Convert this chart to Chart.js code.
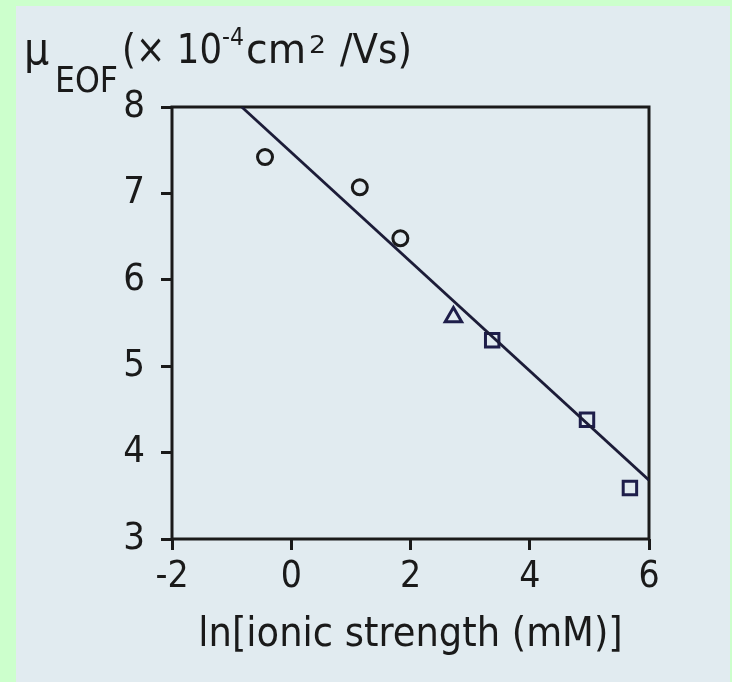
<!DOCTYPE html>
<html>
<head>
<meta charset="utf-8">
<script src="https://cdn.jsdelivr.net/npm/chart.js@4.4.0/dist/chart.umd.min.js"></script>
<style>
  html, body { margin: 0; padding: 0; }
  body { width: 732px; height: 682px; background: #ccffcc; position: relative; overflow: hidden; }
  #panel { position: absolute; left: 16px; top: 6px; width: 714px; height: 676px; background: #e1ebf0; }
  #wrap { position: absolute; left: 0; top: 0; width: 732px; height: 682px; }
</style>
</head>
<body>
<div id="panel"></div>
<div id="wrap"><canvas id="eof-chart"></canvas></div>
<script>
const circleX = [-0.44, 1.15, 1.83];
const circleY = [7.42, 7.07, 6.48];
const triangleX = [2.72];
const triangleY = [5.57];
const squareX = [3.37, 4.96, 5.68];
const squareY = [5.30, 4.38, 3.59];

// Fitted straight line (end points)
const fitX = [-0.83, 6.0];
const fitY = [8.0, 3.68];

// Axis ticks
const xTicks = [-2, 0, 2, 4, 6];
const yTicks = [3, 4, 5, 6, 7, 8];

const xTitle = 'ln[ionic strength (mM)]';

const ink = '#1a1a1a';
const markInk = '#1e1e4a';
const fontFamily = "'DejaVu Sans Condensed', 'DejaVu Sans', sans-serif";

function toPoints(xs, ys) {
  return xs.map((x, i) => ({ x: x, y: ys[i] }));
}

// Draws the frame around the plot and the y unit label
const frameAndUnits = {
  id: 'frameAndUnits',
  beforeDatasetsDraw(chart) {
    const { ctx, chartArea } = chart;
    ctx.save();
    ctx.strokeStyle = ink;
    ctx.lineWidth = 3;
    ctx.strokeRect(chartArea.left, chartArea.top,
      chartArea.right - chartArea.left, chartArea.bottom - chartArea.top);
    ctx.restore();
  },
  afterDraw(chart) {
    const ctx = chart.ctx;
    ctx.save();
    ctx.fillStyle = ink;
    ctx.textAlign = 'left';
    ctx.textBaseline = 'alphabetic';
    // squeeze or stretch each piece so it covers the same span as the scan
    const put = (text, size, x, y, w) => {
      ctx.font = size + 'px ' + fontFamily;
      const sx = w ? w / ctx.measureText(text).width : 1;
      ctx.save();
      ctx.translate(x, y);
      ctx.scale(sx, 1);
      ctx.fillText(text, 0, 0);
      ctx.restore();
    };
    put('\u03bc', 44, 24, 64);
    put('EOF', 36, 55, 92, 63);
    put('(\u00d7 10', 41, 122, 63, 100);
    put('-4', 25, 222, 45, 22);
    put('cm', 41, 246, 63, 60);
    put('2', 25, 309, 53, 17);
    put('/Vs)', 41, 340, 63, 72);
    ctx.restore();
  },
};

const eofCanvas = document.getElementById('eof-chart');

let eofChart = new Chart(eofCanvas, {
  type: 'scatter',
  data: {
    datasets: [
      {
        type: 'line',
        data: toPoints(fitX, fitY),
        borderColor: '#1c1c38',
        borderWidth: 2.8,
        pointRadius: 0,
        fill: false,
      },
      {
        data: toPoints(circleX, circleY),
        pointStyle: 'circle',
        pointRadius: 7.5,
        borderColor: ink,
        borderWidth: 3,
        backgroundColor: 'rgba(0,0,0,0)',
      },
      {
        data: toPoints(triangleX, triangleY),
        pointStyle: 'triangle',
        pointRadius: 9.5,
        borderColor: markInk,
        borderWidth: 3,
        backgroundColor: 'rgba(0,0,0,0)',
      },
      {
        data: toPoints(squareX, squareY),
        pointStyle: 'rect',
        pointRadius: 9.5,
        borderColor: markInk,
        borderWidth: 3,
        backgroundColor: 'rgba(0,0,0,0)',
      },
    ],
  },
  options: {
    responsive: true,
    maintainAspectRatio: false,
    animation: false,
    layout: {
      padding: { top: 107, right: 83, bottom: 0, left: 0 },
    },
    plugins: {
      legend: { display: false },
      tooltip: { enabled: false },
    },
    scales: {
      x: {
        type: 'linear',
        min: xTicks[0],
        max: xTicks[xTicks.length - 1],
        afterBuildTicks(scale) {
          scale.ticks = xTicks.map((v) => ({ value: v }));
        },
        afterFit(scale) {
          scale.height = 143;
        },
        border: { display: false },
        grid: {
          drawOnChartArea: false,
          drawTicks: true,
          tickLength: 11,
          tickWidth: 3,
          tickColor: ink,
        },
        ticks: {
          color: ink,
          padding: 5,
          font: { family: fontFamily, size: 37 },
        },
        title: {
          display: true,
          text: xTitle,
          color: ink,
          padding: { top: 0, bottom: 22 },
          font: { family: fontFamily, size: 41 },
        },
      },
      y: {
        type: 'linear',
        min: yTicks[0],
        max: yTicks[yTicks.length - 1],
        afterBuildTicks(scale) {
          scale.ticks = yTicks.map((v) => ({ value: v }));
        },
        afterFit(scale) {
          scale.width = 172;
        },
        border: { display: false },
        grid: {
          drawOnChartArea: false,
          drawTicks: true,
          tickLength: 11,
          tickWidth: 3,
          tickColor: ink,
        },
        ticks: {
          color: ink,
          padding: 16,
          font: { family: fontFamily, size: 38 },
        },
      },
    },
  },
  plugins: [frameAndUnits],
});
</script>
</body>
</html>
